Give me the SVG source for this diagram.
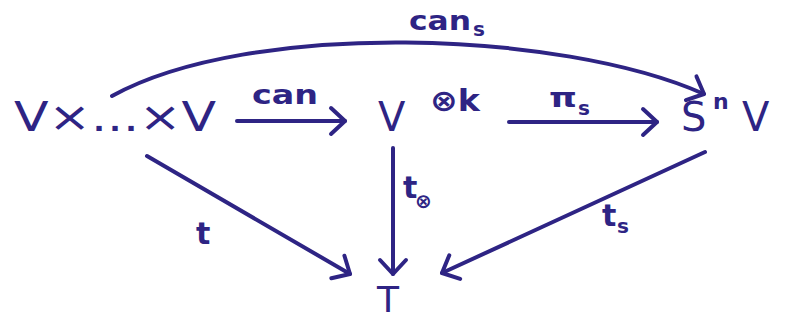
<svg xmlns="http://www.w3.org/2000/svg" width="786" height="321" viewBox="0 0 786 321">
<defs>
<style>
.ln{fill:none;stroke:#2e2484;stroke-width:4;stroke-linecap:round;stroke-linejoin:round}
.tx{fill:#2e2484;font-family:"DejaVu Sans","Liberation Sans",sans-serif}
.big{font-size:40px}
.lbl{font-size:26px;font-weight:bold}
.sub{font-size:20px;font-weight:bold}
</style>
<marker id="ah" markerUnits="userSpaceOnUse" markerWidth="40" markerHeight="40" viewBox="-20 -20 40 40" refX="0" refY="0" orient="auto">
<path d="M-14,-13 L0,0 L-14,13" fill="none" stroke="#2e2484" stroke-width="4" stroke-linecap="round" stroke-linejoin="round"/>
</marker>
</defs>
<rect width="786" height="321" fill="#fff"/>
<g id="connectors">
<path class="ln" d="M237,121 L345,121" marker-end="url(#ah)"/>
<path class="ln" d="M509,122 L657,122" marker-end="url(#ah)"/>
<path class="ln" d="M112,96 C250,20 560,30 704,94" marker-end="url(#ah)"/>
<path class="ln" d="M147,156 L350,274" marker-end="url(#ah)"/>
<path class="ln" d="M393,148 L393,274" marker-end="url(#ah)"/>
<path class="ln" d="M705,152 L442,273" marker-end="url(#ah)"/>
</g>
<g id="node-product"><text class="tx big" x="14" y="131" textLength="202" lengthAdjust="spacingAndGlyphs">V×...×V</text></g>
<g id="node-tensor"><text class="tx big" x="378" y="131">V</text><text class="tx" x="430" y="111" font-size="30" font-weight="bold" textLength="50" lengthAdjust="spacingAndGlyphs">⊗k</text></g>
<g id="node-sym"><text class="tx big" x="681" y="131">S</text><text class="tx" x="713" y="109" font-size="22" font-weight="bold">n</text><text class="tx big" x="742" y="131">V</text></g>
<g id="node-T"><text class="tx" x="377" y="312" font-size="36">T</text></g>
<g id="labels">
<text class="tx lbl" x="252" y="104" textLength="66" lengthAdjust="spacingAndGlyphs">can</text>
<text class="tx lbl" x="549" y="107" textLength="28" lengthAdjust="spacingAndGlyphs">π</text><text class="tx sub" x="578" y="115">s</text>
<text class="tx lbl" x="409" y="30" textLength="62" lengthAdjust="spacingAndGlyphs">can</text><text class="tx sub" x="473" y="36">s</text>
<text class="tx" x="196" y="244" font-size="30" font-weight="bold">t</text>
<text class="tx" x="403" y="198" font-size="30" font-weight="bold">t</text><text class="tx" x="415" y="208" font-size="20" font-weight="bold">⊗</text>
<text class="tx" x="602" y="226" font-size="30" font-weight="bold">t</text><text class="tx sub" x="617" y="233">s</text>
</g>
</svg>
